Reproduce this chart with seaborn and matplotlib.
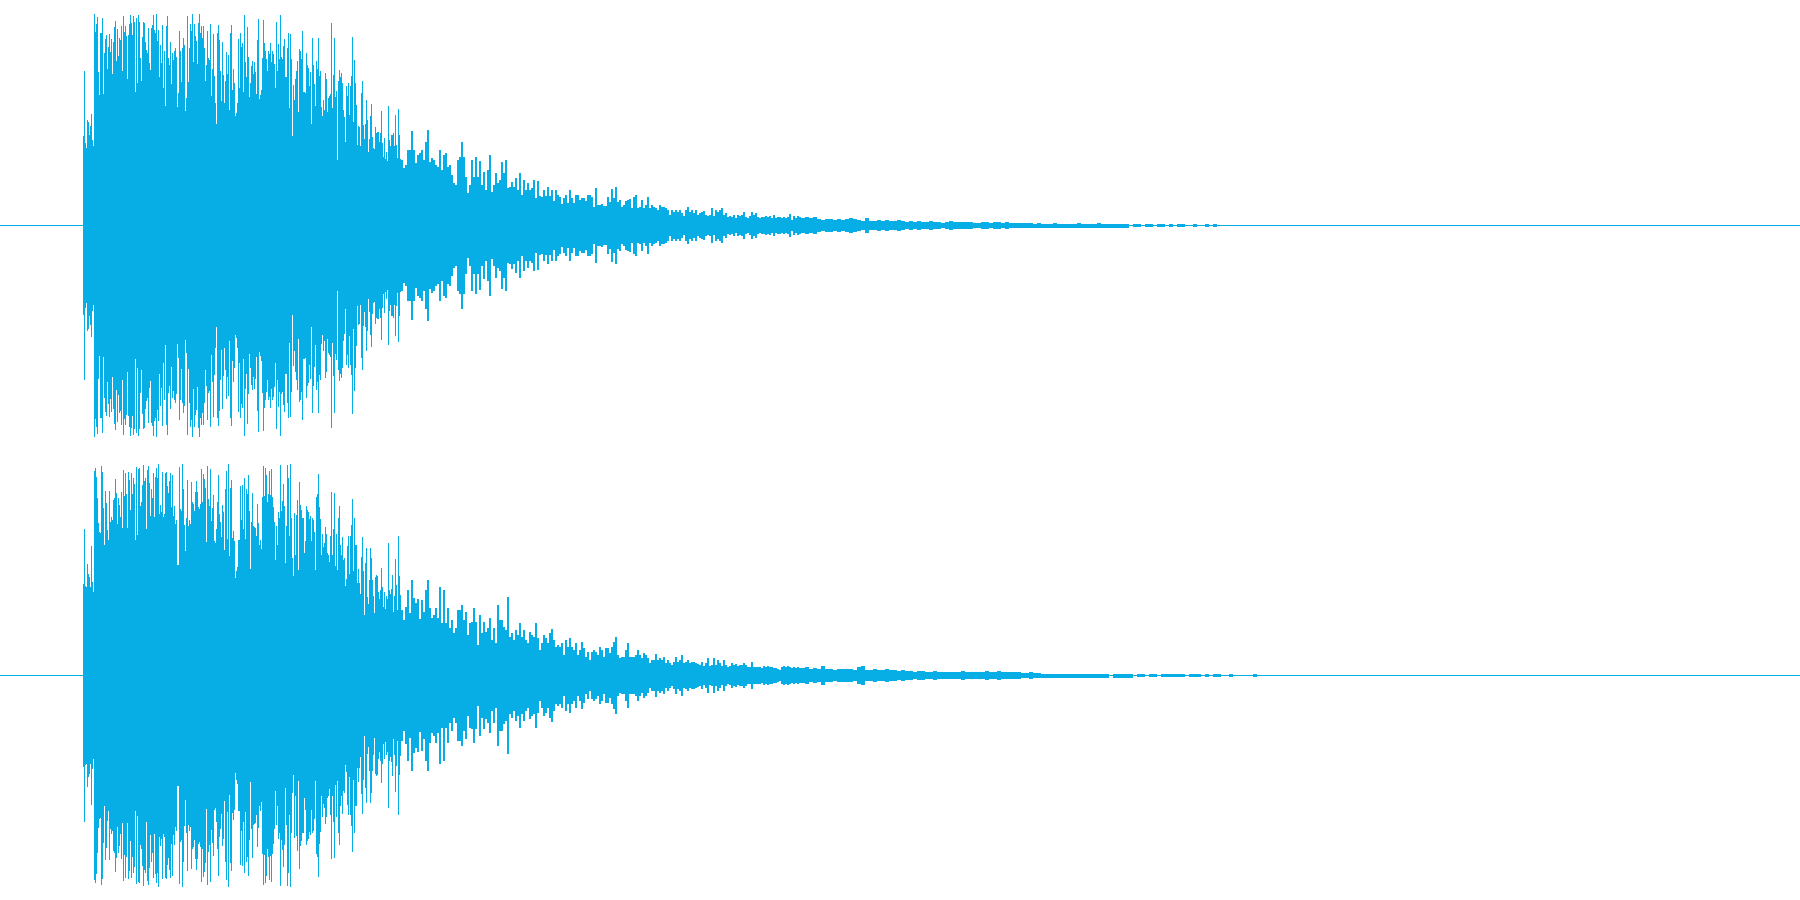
import numpy as np
import pandas as pd
import seaborn as sns
import matplotlib
matplotlib.use('Agg')
import matplotlib.pyplot as plt

WAVE_COLOR = '#07aee6'
FIRST_COLUMN = 82

# peak amplitude, one value per column
ch1_attack = [
    89, 154, 82, 77, 105, 103, 90, 99, 111, 85, 79, 211, 193, 201, 208, 153, 130, 192, 192, 207,
    131, 172, 186, 190, 156, 178, 191, 173, 186, 151, 183, 198, 204, 164, 196, 169, 187, 185, 199, 154,
    209, 193, 199, 189, 146, 190, 201, 210, 202, 190, 209, 203, 133, 207, 142, 210, 203, 167, 144, 188,
    203, 202, 183, 175, 172, 197, 162, 155, 197, 200, 210, 195, 192, 211, 184, 195, 148, 180, 162, 200,
    137, 174, 119, 199, 209, 167, 160, 183, 141, 172, 165, 174, 177, 168, 118, 132, 194, 174, 143, 177,
    187, 180, 114, 127, 209, 143, 177, 201, 194, 211, 163, 201, 189, 184, 161, 202, 211, 192, 199, 187,
    199, 177, 144, 160, 194, 167, 165, 201, 129, 156, 191, 149, 122, 101, 192, 200, 185, 154, 124, 183,
    150, 122, 144, 173, 151, 170, 115, 192, 200, 135, 156, 142, 109, 112, 122, 186, 137, 192, 178, 182,
    133, 210, 163, 148, 198, 168, 128, 142, 159, 164, 151, 163, 153, 131, 185, 206, 126, 130, 135, 167,
    205, 182, 174, 166, 154, 174, 171, 182, 163, 174, 171, 161, 137, 203, 154, 181, 166, 210, 168, 166,
    179, 186, 148, 148, 177, 192, 117, 191, 166, 89, 140, 125, 146, 154, 164, 113, 176, 174, 166, 194,
    133, 133, 132, 172, 160, 157, 139, 153, 101, 187, 160, 141, 119, 164, 156, 187, 149, 154, 118, 109,
    125, 115, 152, 146, 113, 127, 129, 131, 202, 117, 150, 187, 128, 134, 65, 144, 155, 148, 152, 142,
    115, 108, 83, 139, 129, 142, 110, 139, 149, 188, 103, 165, 142, 120, 80, 99, 98, 79, 132, 144,
    100, 86, 101, 125, 105, 73, 86, 109, 121, 88, 77, 76, 98, 92, 93, 93, 83, 92, 114, 82,
    68, 87, 66, 73, 64, 119, 85, 79, 90, 90, 92, 79, 110, 80, 67, 116, 90, 66,
]
ch2_attack = [
    91, 146, 89, 88, 111, 101, 98, 88, 129, 93, 83, 204, 207, 198, 177, 152, 143, 142, 209, 203,
    167, 130, 184, 172, 145, 135, 184, 153, 158, 155, 175, 177, 196, 182, 151, 177, 170, 158, 183, 147,
    205, 179, 202, 181, 147, 203, 195, 165, 202, 181, 197, 191, 135, 208, 140, 206, 207, 169, 173, 190,
    210, 194, 197, 146, 205, 209, 192, 159, 186, 177, 202, 158, 198, 207, 197, 211, 161, 170, 163, 203,
    158, 161, 202, 203, 189, 182, 194, 202, 168, 200, 159, 169, 151, 155, 110, 110, 208, 166, 164, 211,
    186, 150, 124, 157, 195, 149, 155, 151, 193, 173, 171, 164, 183, 194, 183, 168, 166, 171, 206, 173,
    201, 196, 187, 133, 209, 176, 169, 206, 154, 167, 180, 134, 132, 146, 173, 200, 161, 153, 138, 170,
    163, 125, 186, 204, 136, 211, 119, 187, 195, 137, 144, 134, 97, 104, 108, 135, 135, 189, 155, 190,
    146, 197, 136, 186, 181, 200, 164, 106, 153, 182, 149, 148, 147, 139, 171, 152, 130, 135, 126, 178,
    209, 179, 207, 200, 173, 181, 204, 180, 206, 178, 168, 153, 115, 149, 130, 163, 157, 210, 164, 174,
    191, 169, 112, 149, 210, 197, 139, 211, 157, 117, 99, 162, 120, 160, 175, 105, 193, 170, 165, 157,
    157, 122, 134, 169, 165, 163, 156, 159, 134, 157, 155, 143, 105, 178, 181, 201, 168, 156, 120, 141,
    128, 132, 148, 141, 122, 120, 113, 139, 183, 120, 146, 182, 109, 141, 105, 157, 169, 130, 120, 138,
    115, 117, 89, 96, 129, 139, 101, 139, 150, 176, 104, 157, 130, 130, 92, 106, 92, 81, 118, 138,
    104, 60, 112, 127, 78, 71, 95, 127, 117, 95, 79, 62, 98, 100, 99, 83, 76, 85, 107, 88,
    68, 83, 66, 79, 76, 132, 85, 81, 86, 100, 63, 79, 116, 90, 65, 139, 99, 80,
]

# decay part, one value per two columns
ch1_decay = [
    65, 57, 60, 75, 75, 94, 75, 62, 70, 72, 75, 65, 83, 95, 63, 67, 65, 60, 58, 75,
    55, 70, 72, 58, 60, 50, 42, 40, 65, 68, 83, 68, 48, 32, 40, 65, 48, 68, 48, 64,
    40, 53, 35, 55, 70, 33, 40, 52, 42, 45, 63, 52, 65, 37, 38, 43, 38, 47, 35, 52,
    30, 45, 35, 42, 35, 37, 45, 27, 44, 29, 28, 35, 29, 38, 29, 35, 24, 35, 30, 28,
    21, 27, 30, 22, 35, 27, 22, 30, 30, 25, 27, 27, 24, 30, 30, 28, 18, 37, 20, 20,
    21, 19, 19, 28, 23, 36, 27, 38, 23, 25, 18, 20, 24, 25, 26, 17, 28, 30, 17, 18,
    25, 17, 20, 28, 17, 20, 18, 17, 15, 20, 18, 18, 17, 15, 10, 15, 13, 15, 13, 15,
    12, 9, 15, 18, 13, 15, 12, 15, 10, 12, 13, 14, 10, 9, 10, 17, 9, 15, 13, 15,
    17, 10, 12, 8, 9, 8, 10, 7, 10, 9, 10, 13, 8, 7, 9, 13, 10, 12, 8, 7,
    8, 8, 9, 8, 9, 7, 10, 7, 8, 8, 7, 8, 7, 8, 11, 5, 9, 7, 9, 8,
]
ch2_decay = [
    65, 55, 68, 85, 62, 95, 77, 72, 76, 56, 75, 63, 85, 95, 67, 57, 60, 67, 57, 88,
    52, 85, 52, 67, 47, 55, 42, 47, 65, 65, 70, 55, 63, 40, 52, 53, 67, 53, 30, 60,
    42, 53, 43, 47, 57, 35, 47, 32, 70, 55, 55, 48, 45, 78, 38, 42, 35, 45, 40, 52,
    38, 45, 35, 32, 43, 40, 38, 52, 37, 25, 32, 40, 37, 32, 42, 46, 35, 28, 30, 28,
    32, 20, 35, 28, 37, 28, 25, 32, 20, 25, 33, 27, 18, 23, 15, 23, 25, 23, 20, 28,
    25, 18, 27, 27, 22, 28, 33, 38, 20, 17, 18, 18, 25, 32, 18, 18, 18, 20, 25, 20,
    17, 22, 20, 17, 12, 15, 15, 21, 15, 17, 15, 18, 12, 15, 12, 10, 13, 18, 13, 15,
    20, 12, 13, 15, 12, 13, 13, 12, 11, 10, 13, 9, 12, 17, 9, 10, 17, 10, 15, 12,
    9, 15, 10, 8, 9, 12, 10, 11, 9, 10, 10, 12, 10, 8, 8, 13, 8, 8, 8, 8,
    7, 9, 8, 9, 8, 8, 7, 7, 6, 5, 8, 9, 8, 9, 8, 7, 8, 7, 8, 7,
]

# tail, one value per four columns
ch1_tail = [
    7, 8, 7, 8, 6, 5, 6, 6, 5, 6, 5, 6, 7, 6, 5, 4, 7, 4, 4, 5,
    4, 5, 4, 4, 5, 4, 3, 4, 3, 4, 3, 3, 4, 3, 3, 2, 3, 4, 3, 3,
    3, 3, 3, 2, 2, 3, 3, 2, 3, 3, 2, 3, 2, 2, 2, 2, 2, 2, 1.5, 2,
    1.5, 1.5, 1.5, 2, 1.5, 1.5, 1.5, 1.5, 1.5, 2, 1.5, 1.5, 1.5, 1.5, 2, 1.5, 1.5, 1.5, 1.5, 1.5,
    1.5, 1.5, 0, 1, 1, 0, 1, 1, 0, 1, 1, 0, 1, 0, 1, 1, 0, 0, 1, 0,
    0, 1, 0, 1, 0, 0, 0, 0, 0, 0, 0, 0, 0, 0, 0, 0, 0, 0, 0, 0,
]
ch2_tail = [
    7, 8, 6, 7, 6, 9, 6, 6, 5, 6, 6, 6, 6, 5, 8, 9, 5, 5, 6, 5,
    5, 6, 5, 5, 4, 5, 4, 4, 3, 4, 4, 3, 3, 4, 3, 3, 3, 3, 3, 3,
    4, 3, 3, 3, 3, 3, 4, 3, 3, 4, 3, 3, 3, 3, 3, 2, 2, 3, 2, 2,
    1.5, 1.5, 1.5, 1.5, 1.5, 1.5, 1.5, 1.5, 1.5, 1.5, 1.5, 1.5, 1.5, 1.5, 1.5, 1.5, 1.5, 0, 1.5, 1.5,
    1.5, 1.5, 1.5, 0, 1, 1, 0, 1, 1, 0, 1, 1, 1, 1, 1, 1, 0, 1, 1, 1,
    0, 1, 0, 1, 1, 0, 0, 1, 0, 0, 0, 0, 0, 1, 0, 0, 0, 0, 0, 0,
]


def channel_frame(attack, decay, tail):
    amp = np.concatenate([attack, np.repeat(decay, 2), np.repeat(tail, 4)])
    col = FIRST_COLUMN + np.arange(len(amp))
    keep = amp > 0
    col, amp = col[keep], amp[keep]
    return pd.DataFrame({
        'col': np.repeat(col, 2),
        'x': np.repeat(col, 2) + 0.5,
        'y': np.column_stack([-amp, amp]).ravel(),
    })


fig, axes = plt.subplots(nrows=2, figsize=(18, 9), dpi=100)
fig.subplots_adjust(left=0, right=1, top=1, bottom=0, hspace=0)

channels = [(ch1_attack, ch1_decay, ch1_tail), (ch2_attack, ch2_decay, ch2_tail)]
for ax, (attack, decay, tail) in zip(axes, channels):
    df = channel_frame(attack, decay, tail)
    sns.lineplot(data=df, x='x', y='y', units='col', estimator=None, sort=False,
                 color=WAVE_COLOR, linewidth=0.72, antialiased=False, ax=ax,
                 solid_capstyle='butt', legend=False)
    ax.axhline(0.5, color=WAVE_COLOR, linewidth=0.72, antialiased=False)
    ax.set_xlim(0, 1800)
    ax.set_ylim(-225, 225)
    ax.axis('off')

fig.savefig('out.png', dpi=100)
